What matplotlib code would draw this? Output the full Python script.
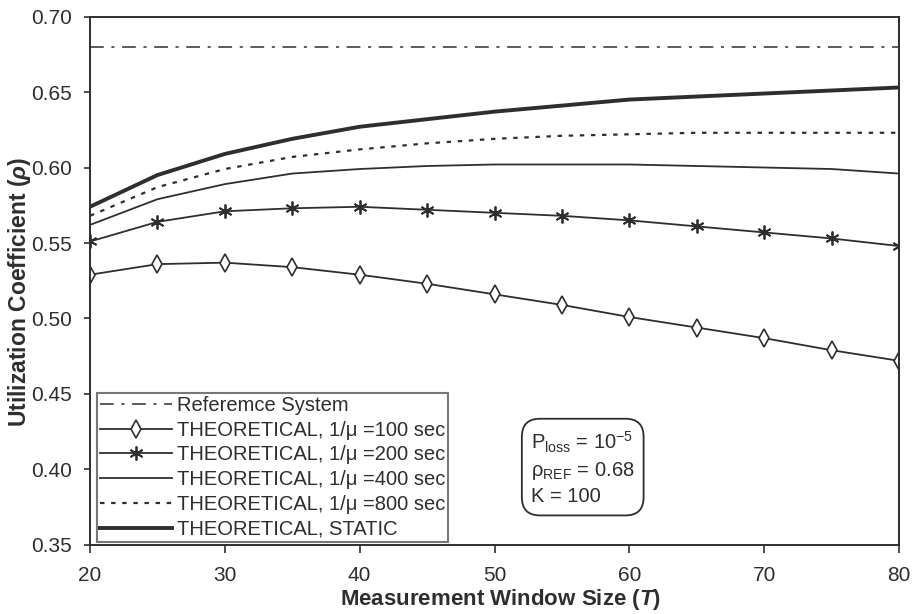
import numpy as np
import matplotlib
matplotlib.use("Agg")
import matplotlib.pyplot as plt

plt.rcParams['font.family'] = ['Liberation Sans', 'DejaVu Sans']
plt.rcParams['mathtext.fontset'] = 'custom'
plt.rcParams['mathtext.rm'] = 'Liberation Sans'
plt.rcParams['mathtext.it'] = 'Liberation Sans:italic'
plt.rcParams['mathtext.bf'] = 'Liberation Sans:bold'
plt.rcParams['mathtext.bfit'] = 'Liberation Sans:italic:bold'

# data
T = [20, 25, 30, 35, 40, 45, 50, 55, 60, 65, 70, 75, 80]
rho_ref = 0.68
rho_100 = [0.529, 0.536, 0.537, 0.534, 0.529, 0.523, 0.516, 0.509, 0.501, 0.494, 0.487, 0.479, 0.472]
rho_200 = [0.551, 0.564, 0.571, 0.573, 0.574, 0.572, 0.570, 0.568, 0.565, 0.561, 0.557, 0.553, 0.548]
rho_400 = [0.562, 0.579, 0.589, 0.596, 0.599, 0.601, 0.602, 0.602, 0.602, 0.601, 0.600, 0.599, 0.596]
rho_800 = [0.568, 0.587, 0.599, 0.607, 0.612, 0.616, 0.619, 0.621, 0.622, 0.623, 0.623, 0.623, 0.623]
rho_static = [0.574, 0.595, 0.609, 0.619, 0.627, 0.632, 0.637, 0.641, 0.645, 0.647, 0.649, 0.651, 0.653]
yticks = [0.35, 0.40, 0.45, 0.50, 0.55, 0.60, 0.65, 0.70]
xticks = [20, 30, 40, 50, 60, 70, 80]

c = '#2e2e2e'
fig = plt.figure(figsize=(9.15, 6.14), dpi=100)
ax = fig.add_axes([0.0984, 0.1124, 0.8841, 0.8607])

ax.plot([T[0], T[-1]], [rho_ref, rho_ref], color=c, lw=1.1, dashes=(9, 5, 2, 5),
        label='Referemce System')
ax.plot(T, rho_100, color=c, lw=1.3, marker='d', ms=9, mfc='white', mec=c, mew=1.2,
        label='THEORETICAL, 1/μ =100 sec')
ax.plot(T, rho_200, color=c, lw=1.3, marker=(6, 2, 0), ms=10, mec=c, mew=1.3,
        label='THEORETICAL, 1/μ =200 sec')
ax.plot(T, rho_400, color=c, lw=1.3, label='THEORETICAL, 1/μ =400 sec')
ax.plot(T, rho_800, color=c, lw=1.6, dashes=(2, 3), label='THEORETICAL, 1/μ =800 sec')
ax.plot(T, rho_static, color=c, lw=2.8, label='THEORETICAL, STATIC')

ax.set_xlim(20, 80)
ax.set_ylim(0.35, 0.70)
ax.set_xticks(xticks)
ax.set_yticks(yticks)
ax.set_yticklabels(['%.2f' % v for v in yticks])
ax.tick_params(axis='x', direction='out', length=6, width=1.2, pad=9, labelsize=15, colors=c)
ax.tick_params(axis='y', direction='out', length=4, width=1.2, pad=9, labelsize=15, colors=c)
for s in ax.spines.values():
    s.set_color(c)
    s.set_linewidth(1.4)

ax.set_xlabel('Measurement Window Size ($\\mathbfit{T}$)', fontsize=16, fontweight='bold', color=c)
ax.xaxis.set_label_coords(0.508, -0.079)
ax.set_ylabel('Utilization Coefficient ($\\mathbfit{\\rho}$)', fontsize=16.5, fontweight='bold', color=c)
ax.yaxis.set_label_coords(-0.071, 0.478)

leg = ax.legend(loc='lower left', bbox_to_anchor=(0.0087, 0.0057), borderaxespad=0,
                fontsize=14.5, fancybox=False, handlelength=3.55, handletextpad=0.25,
                labelspacing=0.29, borderpad=0.15, framealpha=1)
leg.get_frame().set_edgecolor('#777777')
leg.get_frame().set_linewidth(1.5)
for t in leg.get_texts():
    t.set_color(c)

ax.text(0.545, 0.146, 'P$_{\\rm loss}$ = 10$^{-5}$\nρ$_{\\rm REF}$ = 0.68\nK = 100',
        transform=ax.transAxes, fontsize=14.5, color=c, ha='left', va='center',
        linespacing=1.35,
        bbox=dict(boxstyle='round,pad=0.45,rounding_size=0.9', fc='white', ec=c, lw=1.3))

fig.savefig('out.png', dpi=100)
